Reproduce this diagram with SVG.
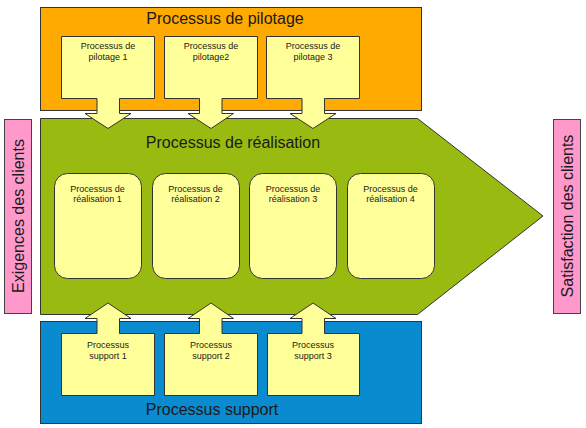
<svg xmlns="http://www.w3.org/2000/svg" width="586" height="428" viewBox="0 0 586 428">
<style>
  .frame { stroke: #333; stroke-width: 1; }
  .sub { fill: #FFFF99; stroke: #333; stroke-width: 1; }
  .pink { fill: #FF99CC; stroke: #444; stroke-width: 1; }
  .title { font-family: "Liberation Sans", Arial, sans-serif; font-size: 16px; fill: #1a1a1a; text-anchor: middle; }
  .small { font-family: "Liberation Sans", Arial, sans-serif; font-size: 9px; fill: #1a1a1a; text-anchor: middle; }
</style>
<rect width="586" height="428" fill="#ffffff"/>

<g id="pilotage">
  <rect class="frame" x="40.5" y="7.5" width="381" height="103" fill="#FFAA00"/>
  <text class="title" x="225" y="24">Processus de pilotage</text>
</g>

<g id="realisation">
  <polygon class="frame" points="40.5,118.5 417.5,118.5 543,216 417.5,314.5 40.5,314.5" fill="#99BB11"/>
  <text class="title" x="233" y="148">Processus de réalisation</text>
</g>

<g id="support">
  <rect class="frame" x="40.5" y="321.5" width="381" height="102" fill="#0A8BD0"/>
  <text class="title" x="212" y="415">Processus support</text>
</g>

<g id="exigences">
  <rect class="pink" x="4.5" y="119.5" width="27" height="194"/>
  <text class="title" transform="translate(23.5,216) rotate(-90)" x="0" y="0">Exigences des clients</text>
</g>

<g id="satisfaction">
  <rect class="pink" x="553.5" y="119.5" width="27" height="194"/>
  <text class="title" transform="translate(572.5,216) rotate(-90)" x="0" y="0">Satisfaction des clients</text>
</g>

<g id="pilotage1">
  <polygon class="sub" points="61.5,36.5 154.5,36.5 154.5,98.5 119.5,98.5 119.5,113.5 131,113.5 108,128.5 85,113.5 97,113.5 97,98.5 61.5,98.5"/>
  <text class="small" x="108" y="49">Processus de</text>
  <text class="small" x="108" y="60">pilotage 1</text>
</g>
<g id="pilotage2">
  <polygon class="sub" points="164.5,36.5 257.5,36.5 257.5,98.5 222,98.5 222,113.5 233.5,113.5 211,128.5 188,113.5 199.5,113.5 199.5,98.5 164.5,98.5"/>
  <text class="small" x="211" y="49">Processus de</text>
  <text class="small" x="211" y="60">pilotage2</text>
</g>
<g id="pilotage3">
  <polygon class="sub" points="266.5,36.5 359.5,36.5 359.5,98.5 324.5,98.5 324.5,113.5 336,113.5 313,128.5 290,113.5 302,113.5 302,98.5 266.5,98.5"/>
  <text class="small" x="313" y="49">Processus de</text>
  <text class="small" x="313" y="60">pilotage 3</text>
</g>

<g id="realisation1">
  <rect class="sub" x="54.5" y="173.5" width="87" height="105" rx="13"/>
  <text class="small" x="97.5" y="192">Processus de</text>
  <text class="small" x="97.5" y="202">réalisation 1</text>
</g>
<g id="realisation2">
  <rect class="sub" x="152.5" y="173.5" width="87" height="105" rx="13"/>
  <text class="small" x="195.5" y="192">Processus de</text>
  <text class="small" x="195.5" y="202">réalisation 2</text>
</g>
<g id="realisation3">
  <rect class="sub" x="249.5" y="173.5" width="87" height="105" rx="13"/>
  <text class="small" x="293" y="192">Processus de</text>
  <text class="small" x="293" y="202">réalisation 3</text>
</g>
<g id="realisation4">
  <rect class="sub" x="347.5" y="173.5" width="87" height="105" rx="13"/>
  <text class="small" x="390.5" y="192">Processus de</text>
  <text class="small" x="390.5" y="202">réalisation 4</text>
</g>

<g id="support1">
  <polygon class="sub" points="61.5,333.5 97,333.5 97,318.5 85,318.5 108,303 131,318.5 119.5,318.5 119.5,333.5 154.5,333.5 154.5,395.5 61.5,395.5"/>
  <text class="small" x="108" y="348">Processus</text>
  <text class="small" x="108" y="359">support 1</text>
</g>
<g id="support2">
  <polygon class="sub" points="164.5,333.5 199.5,333.5 199.5,318.5 188,318.5 211,303 233.5,318.5 222,318.5 222,333.5 257.5,333.5 257.5,395.5 164.5,395.5"/>
  <text class="small" x="211" y="348">Processus</text>
  <text class="small" x="211" y="359">support 2</text>
</g>
<g id="support3">
  <polygon class="sub" points="267.5,333.5 302,333.5 302,318.5 290,318.5 313,303 336,318.5 324.5,318.5 324.5,333.5 359.5,333.5 359.5,395.5 267.5,395.5"/>
  <text class="small" x="313" y="348">Processus</text>
  <text class="small" x="313" y="359">support 3</text>
</g>

<g id="connectors"></g>
</svg>
